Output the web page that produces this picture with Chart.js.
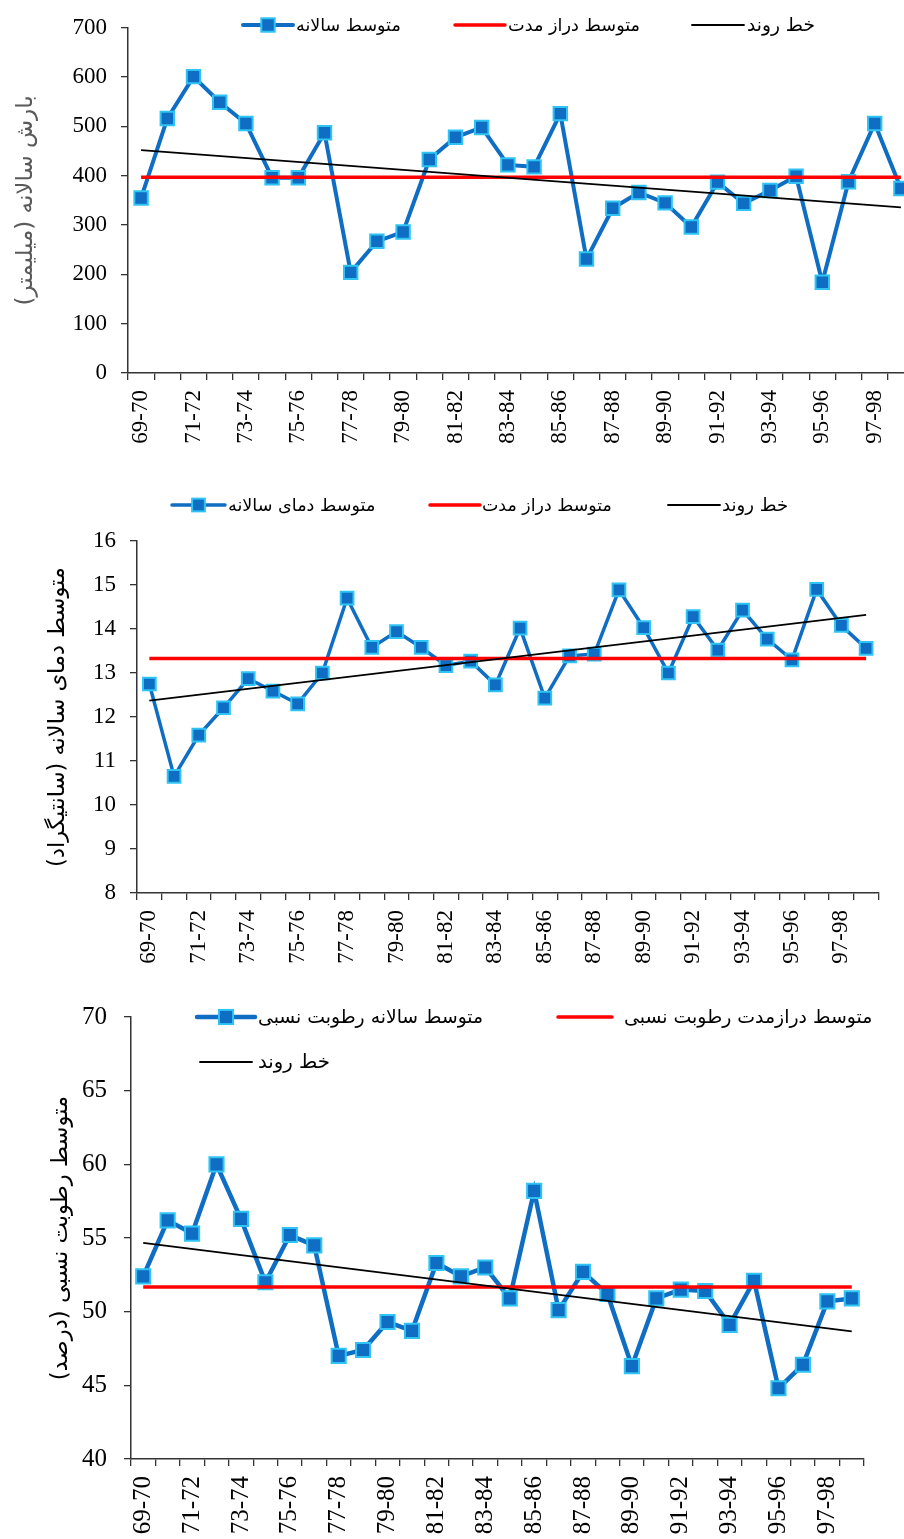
<!DOCTYPE html>
<html>
<head>
<meta charset="utf-8">
<script src="https://cdn.jsdelivr.net/npm/chart.js@4.4.1/dist/chart.umd.min.js"></script>
<style>
  html, body { margin: 0; padding: 0; background: #fff; overflow: hidden; width: 904px; height: 1539px; }
  .box { position: absolute; left: 0; }
  #box1 { top: 0; width: 940px; height: 460px; }
  #box2 { top: 470px; width: 904px; height: 510px; }
  #box3 { top: 985px; width: 904px; height: 554px; }
</style>
</head>
<body>
<div class="box" id="box1"><canvas id="rainChart" width="940" height="460"></canvas></div>
<div class="box" id="box2"><canvas id="tempChart" width="904" height="510"></canvas></div>
<div class="box" id="box3"><canvas id="humChart" width="904" height="554"></canvas></div>
<script>
// water years on the x axis
const seasons = [
  '69-70', '70-71', '71-72', '72-73', '73-74', '74-75', '75-76', '76-77', '77-78', '78-79',
  '79-80', '80-81', '81-82', '82-83', '83-84', '84-85', '85-86', '86-87', '87-88', '88-89',
  '89-90', '90-91', '91-92', '92-93', '93-94', '94-95', '95-96', '96-97', '97-98', '98-99'
];

// annual rainfall (mm)
const rainfall = [355, 516, 601, 549, 506, 396, 396, 487, 204, 267, 286, 433, 478, 498, 422,
  418, 526, 231, 334, 366, 345, 296, 387, 344, 370, 399, 184, 388, 506, 374];
const rainMean = 397;
const rainTrend = [452, 336];
const rainTicks = { min: 0, max: 700, step: 100 };

// annual mean temperature (C)
const temperature = [12.75, 10.65, 11.59, 12.21, 12.87, 12.59, 12.30, 13.00, 14.70, 13.58,
  13.94, 13.58, 13.17, 13.27, 12.73, 14.02, 12.43, 13.39, 13.43, 14.89,
  14.03, 13.00, 14.28, 13.52, 14.43, 13.77, 13.30, 14.90, 14.08, 13.56];
const tempMean = 13.33;
const tempTrend = [12.37, 14.32];
const tempTicks = { min: 8, max: 16, step: 1 };

// annual mean relative humidity (%)
const humidity = [52.4, 56.2, 55.3, 60.0, 56.3, 52.0, 55.2, 54.5, 47.0, 47.4,
  49.3, 48.7, 53.3, 52.4, 53.0, 50.9, 58.2, 50.1, 52.7, 51.2,
  46.3, 50.9, 51.5, 51.4, 49.1, 52.1, 44.8, 46.4, 50.7, 50.9];
const humMean = 51.67;
const humTrend = [54.67, 48.66];
const humTicks = { min: 40, max: 70, step: 5 };

const RLM = '\u200F';
const SERIF = "'Liberation Serif', 'DejaVu Serif', serif";
const ARABIC = "'DejaVu Sans', sans-serif";

Chart.defaults.font.family = SERIF;
Chart.defaults.color = '#000';

// pick a font size so that a text spans the wanted width
const measureCtx = document.createElement('canvas').getContext('2d');
function fitSize(text, family, weight, width) {
  measureCtx.font = weight + ' 20px ' + family;
  return Math.round(20 * width / measureCtx.measureText(text).width * 10) / 10;
}

// legend drawn over the plot, like the original sheet
const overlayLegend = {
  id: 'overlayLegend',
  afterDraw(chart, args, opts) {
    const ctx = chart.ctx;
    opts.items.forEach((item, i) => {
      const ds = chart.data.datasets[i];
      ctx.save();
      ctx.strokeStyle = ds.borderColor;
      ctx.lineWidth = ds.borderWidth;
      ctx.lineCap = 'round';
      ctx.beginPath();
      ctx.moveTo(item.x, item.y);
      ctx.lineTo(item.x + item.len, item.y);
      ctx.stroke();
      if (ds.pointRadius > 0) {
        const s = ds.pointRadius * Math.SQRT1_2;
        const cx = item.x + item.len / 2;
        ctx.fillStyle = ds.pointBackgroundColor;
        ctx.strokeStyle = ds.pointBorderColor;
        ctx.lineWidth = ds.pointBorderWidth;
        ctx.fillRect(cx - s, item.y - s, 2 * s, 2 * s);
        ctx.strokeRect(cx - s, item.y - s, 2 * s, 2 * s);
      }
      const size = fitSize(ds.label, ARABIC, opts.weight, item.textW);
      ctx.font = opts.weight + ' ' + size + 'px ' + ARABIC;
      ctx.fillStyle = '#000';
      ctx.textAlign = 'left';
      ctx.textBaseline = 'middle';
      ctx.fillText(ds.label, item.textX, item.y + 1);
      ctx.restore();
    });
  }
};

function buildChart(id, cfg) {
  const first = seasons[0];
  const last = seasons[seasons.length - 1];
  const titleSize = fitSize(cfg.title, ARABIC, 'normal', cfg.titleLen);

  return new Chart(document.getElementById(id), {
    type: 'line',
    data: {
      labels: seasons,
      datasets: [
        {
          label: cfg.names[0],
          data: cfg.values,
          borderColor: '#0F6EC3',
          borderWidth: cfg.lineWidth,
          pointStyle: 'rect',
          pointRadius: cfg.pointRadius,
          pointHoverRadius: cfg.pointRadius,
          pointBackgroundColor: '#0F6EC3',
          pointBorderColor: '#2FC4F4',
          pointBorderWidth: 2,
          tension: 0,
          order: 3
        },
        {
          label: cfg.names[1],
          data: [{ x: first, y: cfg.mean }, { x: last, y: cfg.mean }],
          borderColor: '#FF0000',
          borderWidth: 3.5,
          pointRadius: 0,
          order: 2
        },
        {
          label: cfg.names[2],
          data: [{ x: first, y: cfg.trend[0] }, { x: last, y: cfg.trend[1] }],
          borderColor: '#000000',
          borderWidth: 1.8,
          pointRadius: 0,
          order: 1
        }
      ]
    },
    options: {
      responsive: false,
      animation: false,
      devicePixelRatio: 1,
      layout: { padding: { left: 0, top: cfg.top, right: cfg.right, bottom: 0 } },
      scales: {
        x: {
          type: 'category',
          offset: true,
          grid: { offset: true, drawOnChartArea: false, drawTicks: true, tickLength: 7, color: '#333', lineWidth: 1.3 },
          border: { display: true, color: '#333', width: 1.5 },
          ticks: {
            autoSkip: false,
            minRotation: 90,
            maxRotation: 90,
            padding: 10,
            color: '#000',
            font: { size: cfg.xFont, family: SERIF },
            callback: (value, index) => (index % 2 === 0 ? seasons[index] : '')
          },
          afterFit: (scale) => { scale.height = cfg.xHeight; }
        },
        y: {
          min: cfg.ticks.min,
          max: cfg.ticks.max,
          grid: { drawOnChartArea: false, drawTicks: true, tickLength: 7, color: '#333', lineWidth: 1.3 },
          border: { display: true, color: '#333', width: 1.5 },
          ticks: {
            stepSize: cfg.ticks.step,
            padding: cfg.yPad,
            color: '#000',
            font: { size: cfg.yFont, family: SERIF }
          },
          title: {
            display: true,
            text: cfg.title + RLM,
            color: cfg.titleColor,
            font: { size: titleSize, family: ARABIC },
            padding: { top: cfg.titlePad, bottom: 0 }
          },
          afterFit: (scale) => { scale.width = cfg.yWidth; }
        }
      },
      plugins: {
        legend: { display: false },
        tooltip: { enabled: false },
        overlayLegend: { items: cfg.legend, weight: cfg.legendWeight }
      }
    },
    plugins: [overlayLegend]
  });
}

buildChart('rainChart', {
  values: rainfall, mean: rainMean, trend: rainTrend, ticks: rainTicks,
  names: ['متوسط سالانه', 'متوسط دراز مدت', 'خط روند'],
  title: 'بارش سالانه (میلیمتر)', titleLen: 210, titleColor: '#5a5a5a', titlePad: 12,
  top: 20, right: 26, yWidth: 128, xHeight: 87, yPad: 14, yFont: 23, xFont: 23,
  lineWidth: 4, pointRadius: 9.5, legendWeight: 'normal',
  legend: [
    { x: 243, y: 25, len: 50, textX: 296, textW: 105 },
    { x: 455, y: 25, len: 50, textX: 508, textW: 132 },
    { x: 692, y: 25, len: 52, textX: 747, textW: 68 }
  ]
});

buildChart('tempChart', {
  values: temperature, mean: tempMean, trend: tempTrend, ticks: tempTicks,
  names: ['متوسط دمای سالانه', 'متوسط دراز مدت', 'خط روند'],
  title: 'متوسط دمای سالانه (سانتیگراد)', titleLen: 300, titleColor: '#000', titlePad: 45,
  top: 71, right: 17, yWidth: 137, xHeight: 87, yPad: 14, yFont: 23, xFont: 23,
  lineWidth: 3.5, pointRadius: 9, legendWeight: 'normal',
  legend: [
    { x: 172, y: 35, len: 53, textX: 228, textW: 147 },
    { x: 430, y: 35, len: 50, textX: 482, textW: 130 },
    { x: 668, y: 35, len: 52, textX: 722, textW: 66 }
  ]
});

buildChart('humChart', {
  values: humidity, mean: humMean, trend: humTrend, ticks: humTicks,
  names: ['متوسط سالانه رطوبت نسبی', 'متوسط درازمدت رطوبت نسبی', 'خط روند'],
  title: 'متوسط رطوبت نسبی (درصد)', titleLen: 285, titleColor: '#000', titlePad: 47,
  top: 29, right: 40, yWidth: 131, xHeight: 80, yPad: 17, yFont: 25, xFont: 25,
  lineWidth: 4.5, pointRadius: 10, legendWeight: 'normal',
  legend: [
    { x: 197, y: 32, len: 58, textX: 258, textW: 225 },
    { x: 558, y: 32, len: 54, textX: 624, textW: 249 },
    { x: 200, y: 77, len: 52, textX: 258, textW: 72 }
  ]
});
</script>
</body>
</html>
